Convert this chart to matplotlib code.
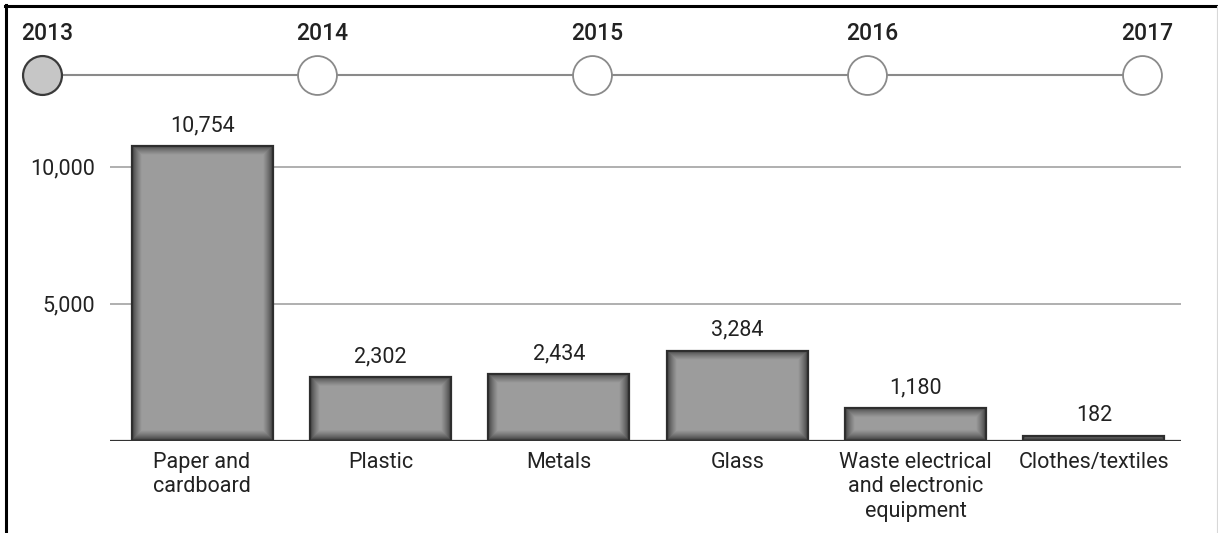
import numpy as np
import matplotlib
matplotlib.use("Agg")
import matplotlib.pyplot as plt
from matplotlib.lines import Line2D

# Waste collected per material
categories = ["Paper and\ncardboard", "Plastic", "Metals", "Glass",
              "Waste electrical\nand electronic\nequipment", "Clothes/textiles"]
values = [10754, 2302, 2434, 3284, 1180, 182]
value_labels = ["10,754", "2,302", "2,434", "3,284", "1,180", "182"]
y_ticks = [5000, 10000]
y_tick_labels = ["5,000", "10,000"]
years = [2013, 2014, 2015, 2016, 2017]
selected_year = 2013

plt.rcParams["font.family"] = ["Roboto", "DejaVu Sans"]
TEXT = "#222222"
FS = 15.5

W_PX, H_PX, DPI = 1218, 533, 100
fig = plt.figure(figsize=(W_PX / DPI, H_PX / DPI), dpi=DPI)
fig.patch.set_facecolor("white")


def px_box(left, top, right, bottom):
    return [left / W_PX, 1 - bottom / H_PX, (right - left) / W_PX, (bottom - top) / H_PX]


# ---------------- bar chart ----------------
ax = fig.add_axes(px_box(110, 120, 1181, 440.5))
x = np.arange(len(categories))
XLIM = (-0.516, 5.488)
YLIM = (0, 11700)
ax.set_xlim(*XLIM)
ax.set_ylim(*YLIM)

for s in ax.spines.values():
    s.set_visible(False)
ax.axhline(0, color="#333333", lw=1.6, zorder=4)
for yt in y_ticks:
    ax.axhline(yt, color="#9a9a9a", lw=1.1, zorder=1)

bars = ax.bar(x, values, width=0.79, facecolor="none", edgecolor="#2e2e2e",
              linewidth=1.6, zorder=3)

# inner shading: dark rim fading into a flat grey centre
dark, light = 0.20, 0.615
for rect in bars:
    x0, y0 = rect.get_xy()
    w, h = rect.get_width(), rect.get_height()
    (px0, py0) = ax.transData.transform((x0, y0))
    (px1, py1) = ax.transData.transform((x0 + w, y0 + h))
    Wp = max(int(round(px1 - px0)), 1)
    Hp = max(int(round(py1 - py0)), 1)
    xx = np.arange(Wp) + 0.5
    yy = np.arange(Hp) + 0.5
    dx = np.minimum(xx, Wp - xx)
    dy = np.minimum(yy, Hp - yy)
    d = np.minimum(dx[None, :], dy[:, None])
    t = np.clip(d / 10.0, 0, 1) ** 0.7
    v = dark + (light - dark) * t
    img = np.dstack([v, v, v])
    im = ax.imshow(img, extent=(x0, x0 + w, y0, y0 + h), aspect="auto",
                   interpolation="bilinear", zorder=2)
    im.set_clip_path(rect)

ax.set_xlim(*XLIM)
ax.set_ylim(*YLIM)

for xi, v, lab in zip(x, values, value_labels):
    ax.annotate(lab, (xi, v), xytext=(0, 7), textcoords="offset points",
                ha="center", va="bottom", fontsize=FS, color=TEXT)

ax.set_yticks(y_ticks)
ax.set_yticklabels(y_tick_labels, fontsize=FS, color=TEXT)
ax.set_xticks(x)
ax.set_xticklabels(categories, fontsize=FS, color=TEXT, linespacing=1.22)
ax.tick_params(axis="both", length=0)
ax.tick_params(axis="y", pad=11)
ax.tick_params(axis="x", pad=8)

# ---------------- year timeline ----------------
tl = fig.add_axes(px_box(0, 10, W_PX, 110))
step = 275.0
tl.set_xlim(years[0] - 42 / step, years[0] + (W_PX - 42) / step)
tl.set_ylim(0, 1)
tl.axis("off")
ly = 0.35
tl.plot([years[0], years[-1]], [ly, ly], color="#8a8a8a", lw=1.5, zorder=1)
for yr in years:
    if yr == selected_year:
        tl.plot(yr, ly, "o", ms=28, mfc="#c6c6c6", mec="#3a3a3a", mew=1.6, zorder=3)
    else:
        tl.plot(yr, ly, "o", ms=28, mfc="white", mec="#8a8a8a", mew=1.3, zorder=3)
    tl.annotate(str(yr), (yr, 0.77), xytext=(4, 0), textcoords="offset points",
                ha="center", va="center", fontsize=16.5, fontweight="medium",
                color=TEXT)

# ---------------- frame ----------------
fig.add_artist(Line2D([6 / W_PX, 6 / W_PX], [0, 1 - 5 / H_PX], color="black",
                      lw=2.2, transform=fig.transFigure))
fig.add_artist(Line2D([5 / W_PX, 1], [1 - 6 / H_PX, 1 - 6 / H_PX], color="black",
                      lw=2.2, transform=fig.transFigure))
fig.add_artist(Line2D([1216.5 / W_PX, 1216.5 / W_PX], [0, 1 - 6 / H_PX],
                      color="#d8d8d8", lw=0.8, transform=fig.transFigure))

fig.savefig("out.png", dpi=DPI)
